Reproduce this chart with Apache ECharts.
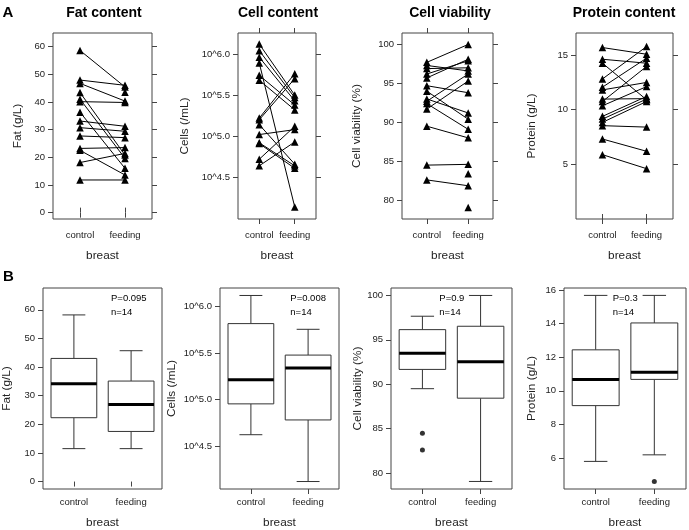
<!DOCTYPE html>
<html><head><meta charset="utf-8">
<script src="https://cdn.jsdelivr.net/npm/echarts@6/dist/echarts.min.js"></script>
<style>html,body{margin:0;padding:0;background:#fff}#c{width:689px;height:530px}</style>
</head><body><div id="c"></div>
<script>
// ---------- DATA ----------
const categories = ['control', 'feeding'];
const panelTitles = ['Fat content', 'Cell content', 'Cell viability', 'Protein content'];
const yNames = ['Fat (g/L)', 'Cells (/mL)', 'Cell viability (%)', 'Protein (g/L)'];
const xName = 'breast';

// Panel A: paired values per mother (null = missing control value)
const fatControl  = [58.6, 47.9, 46.7, 43.4, 41.0, 40.1, 36.3, 33.1, 30.7, 27.7, 23.2, 22.5, 18.1, 11.8, null];
const fatFeeding  = [45.4, 46.0, 40.3, 20.8, 19.6, 39.8, 16.0, 31.2, 29.4, 27.1, 23.5, 13.6, 21.4, 11.8, 43.5];
const cellControl = [6.12, 6.04, 5.96, 5.89, 5.74, 5.68, 5.22, 5.20, 5.14, 5.02, 4.92, 4.91, 4.72, 4.64];
const cellFeeding = [5.50, 5.47, 5.43, 4.14, 5.38, 5.32, 5.76, 5.70, 4.66, 5.08, 4.64, 4.61, 5.12, 4.93];
const viabControl = [97.7, 97.3, 96.9, 96.2, 95.7, 94.7, 94.0, 93.0, 92.7, 92.4, 91.7, 89.5, 84.5, 82.6, null, null];
const viabFeeding = [100.0, 96.6, 97.0, 97.9, 98.1, 93.8, 90.4, 91.2, 96.2, 89.1, 95.3, 88.0, 84.6, 81.85, 83.4, 79.05];
const protControl = [15.67, 14.6, 14.24, 12.8, 12.05, 11.8, 10.96, 10.74, 10.35, 9.38, 9.13, 8.83, 8.53, 7.31, 5.88];
const protFeeding = [15.06, 14.24, 10.9, 15.76, 14.7, 12.48, 11.0, 13.94, 12.1, 11.2, 10.96, 10.74, 8.4, 6.19, 4.6];

// Panel B: box statistics [min, Q1, median, Q3, max]
const fatBoxControl  = [11.5, 22.3, 34.2, 43.0, 58.2];
const fatBoxFeeding  = [11.5, 17.5, 26.9, 35.1, 45.7];
const cellBoxControl = [4.625, 4.955, 5.212, 5.814, 6.115];
const cellBoxFeeding = [4.124, 4.783, 5.338, 5.477, 5.753];
const viabBoxControl = [89.5, 91.67, 93.5, 96.15, 97.66];
const viabBoxFeeding = [79.05, 88.43, 92.54, 96.53, 100.0];
const protBoxControl = [5.8, 9.12, 10.68, 12.44, 15.68];
const protBoxFeeding = [6.19, 10.68, 11.1, 14.04, 15.68];
// outliers
const fatOutControl = [], fatOutFeeding = [];
const cellOutControl = [], cellOutFeeding = [];
const viabOutControl = [84.47, 82.6], viabOutFeeding = [];
const protOutControl = [], protOutFeeding = [4.6];

const pLabels = ['P=0.095', 'P=0.008', 'P=0.9', 'P=0.3'];
const nLabel = 'n=14';

// tick values
const fatTicks = [0, 10, 20, 30, 40, 50, 60];
const cellTicks = [4.5, 5.0, 5.5, 6.0];
const viabTicks = [80, 85, 90, 95, 100];
const protTicksA = [5, 10, 15];
const protTicksB = [6, 8, 10, 12, 14, 16];

// ---------- LAYOUT / STYLE ----------
const FONT = '"Liberation Sans", Arial, Helvetica, sans-serif';
const TICK_COLOR = '#444';
const LABEL_COLOR = '#222';
const TICK_FS = 9.5;
const NAME_FS = 11.8;

const topGrids = [{left: 53, width: 99}, {left: 238, width: 78}, {left: 402, width: 91}, {left: 576, width: 97}];
const botGrids = [{left: 42, width: 120}, {left: 220, width: 119}, {left: 391, width: 121}, {left: 564, width: 122}];
const TOP_Y = 33, TOP_H = 186, BOT_Y = 288, BOT_H = 201;
const yRangeA = [[-2.3, 64.9], [3.993, 6.255], [77.58, 101.47], [0, 17]];
const yRangeB = [[-2.6, 67.6], [4.044, 6.195], [78.2, 100.84], [4.157, 16.12]];
const yNameGapA = [29, 47, 39.5, 38.5];
const yNameGapB = [30, 42, 26, 26];
const pTextX = [110, 289.3, 438.3, 611.7];
const titleX = [104, 278, 450, 624];

const pairsA = [[fatControl, fatFeeding], [cellControl, cellFeeding], [viabControl, viabFeeding], [protControl, protFeeding]];
const boxesB = [[fatBoxControl, fatBoxFeeding], [cellBoxControl, cellBoxFeeding], [viabBoxControl, viabBoxFeeding], [protBoxControl, protBoxFeeding]];
const outB = [[fatOutControl, fatOutFeeding], [cellOutControl, cellOutFeeding], [viabOutControl, viabOutFeeding], [protOutControl, protOutFeeding]];
const ticksA = [fatTicks, cellTicks, viabTicks, protTicksA];
const ticksB = [fatTicks, cellTicks, viabTicks, protTicksB];
const fmt = [v => String(v), v => '10^' + v.toFixed(1), v => String(v), v => String(v)];

const grid = [], xAxis = [], yAxis = [], series = [];

function mkX(gi, min, max, opts) {
  return Object.assign({
    type: 'value', gridIndex: gi, min: min, max: max, position: 'bottom',
    axisLine: {show: false}, splitLine: {show: false},
    axisTick: {show: true, customValues: [1, 2], length: 5, lineStyle: {color: TICK_COLOR}},
    axisLabel: {show: true, customValues: [1, 2], formatter: v => categories[Math.round(v) - 1],
      fontSize: TICK_FS, color: LABEL_COLOR, fontFamily: FONT}
  }, opts);
}
function mkY(gi, range, ticks, f, opts) {
  return Object.assign({
    type: 'value', gridIndex: gi, min: range[0], max: range[1], position: 'left',
    axisLine: {show: false}, splitLine: {show: false},
    axisTick: {show: true, customValues: ticks, length: 5, lineStyle: {color: TICK_COLOR}},
    axisLabel: {show: true, customValues: ticks, formatter: f, fontSize: TICK_FS, color: LABEL_COLOR, fontFamily: FONT}
  }, opts);
}

// top (A) panels
for (let p = 0; p < 4; p++) {
  grid.push({left: topGrids[p].left, width: topGrids[p].width, top: TOP_Y, height: TOP_H,
    show: true, borderColor: '#444', borderWidth: 1, backgroundColor: 'transparent'});
}
// bottom (B) panels
for (let p = 0; p < 4; p++) {
  grid.push({left: botGrids[p].left, width: botGrids[p].width, top: BOT_Y, height: BOT_H,
    show: true, borderColor: '#444', borderWidth: 1, backgroundColor: 'transparent'});
}
// main axes
for (let p = 0; p < 4; p++) {
  xAxis.push(mkX(p, 0.4, 2.6, {
    name: xName, nameLocation: 'middle', nameGap: 30.5,
    nameTextStyle: {fontSize: NAME_FS, color: LABEL_COLOR, fontFamily: FONT},
    axisLabel: {show: true, customValues: [1, 2], formatter: v => categories[Math.round(v) - 1],
      fontSize: TICK_FS, color: LABEL_COLOR, fontFamily: FONT, margin: 11}
  }));
  yAxis.push(mkY(p, yRangeA[p], ticksA[p], fmt[p], {
    name: yNames[p], nameLocation: 'middle', nameGap: yNameGapA[p], nameRotate: 90,
    nameTextStyle: {fontSize: NAME_FS, color: LABEL_COLOR, fontFamily: FONT}
  }));
}
for (let p = 0; p < 4; p++) {
  xAxis.push(mkX(4 + p, 0.46, 2.54, {
    name: xName, nameLocation: 'middle', nameGap: 28,
    nameTextStyle: {fontSize: NAME_FS, color: LABEL_COLOR, fontFamily: FONT},
    axisLabel: {show: true, customValues: [1, 2], formatter: v => categories[Math.round(v) - 1],
      fontSize: TICK_FS, color: LABEL_COLOR, fontFamily: FONT, margin: 8}
  }));
  yAxis.push(mkY(4 + p, yRangeB[p], ticksB[p], fmt[p], {
    name: yNames[p], nameLocation: 'middle', nameGap: yNameGapB[p], nameRotate: 90,
    nameTextStyle: {fontSize: NAME_FS, color: LABEL_COLOR, fontFamily: FONT}
  }));
}
// lattice-style extra ticks on top & right of A panels
for (let p = 0; p < 4; p++) {
  xAxis.push(mkX(p, 0.4, 2.6, {position: 'top', axisLabel: {show: false, customValues: [1, 2]}}));
  yAxis.push(mkY(p, yRangeA[p], ticksA[p], fmt[p], {position: 'right', axisLabel: {show: false, customValues: ticksA[p]}}));
}

// series A: paired lines with triangles
for (let p = 0; p < 4; p++) {
  const [c, f] = pairsA[p];
  for (let k = 0; k < f.length; k++) {
    const data = c[k] == null ? [[2, f[k]]] : [[1, c[k]], [2, f[k]]];
    series.push({
      type: 'line', xAxisIndex: p, yAxisIndex: p, data: data,
      symbol: 'triangle', symbolSize: 7.5, showSymbol: true,
      itemStyle: {color: '#000'}, lineStyle: {color: '#000', width: 1},
      silent: true, animation: false, z: 3
    });
  }
}

// series B: box plots
function renderBox(params, api) {
  const x = api.value(0);
  const vals = [api.value(1), api.value(2), api.value(3), api.value(4), api.value(5)];
  const pts = vals.map(v => api.coord([x, v]));
  const cx = pts[0][0];
  const half = api.size([0.8, 0])[0] / 2;
  const cap = half / 2;
  const st = {stroke: '#333', lineWidth: 1, fill: null};
  return {type: 'group', children: [
    {type: 'line', shape: {x1: cx, y1: pts[3][1], x2: cx, y2: pts[4][1]}, style: st},
    {type: 'line', shape: {x1: cx, y1: pts[1][1], x2: cx, y2: pts[0][1]}, style: st},
    {type: 'line', shape: {x1: cx - cap, y1: pts[4][1], x2: cx + cap, y2: pts[4][1]}, style: st},
    {type: 'line', shape: {x1: cx - cap, y1: pts[0][1], x2: cx + cap, y2: pts[0][1]}, style: st},
    {type: 'rect', shape: {x: cx - half, y: pts[3][1], width: 2 * half, height: pts[1][1] - pts[3][1]},
      style: {fill: '#fff', stroke: '#333', lineWidth: 1}},
    {type: 'line', shape: {x1: cx - half, y1: pts[2][1], x2: cx + half, y2: pts[2][1]},
      style: {stroke: '#000', lineWidth: 3}}
  ]};
}
for (let p = 0; p < 4; p++) {
  const [bc, bf] = boxesB[p];
  series.push({
    type: 'custom', xAxisIndex: 4 + p, yAxisIndex: 4 + p, renderItem: renderBox,
    data: [[1].concat(bc), [2].concat(bf)], encode: {x: 0, y: [1, 2, 3, 4, 5]},
    silent: true, animation: false, z: 2
  });
  const [oc, of] = outB[p];
  const od = oc.map(v => [1, v]).concat(of.map(v => [2, v]));
  if (od.length) {
    series.push({type: 'scatter', xAxisIndex: 4 + p, yAxisIndex: 4 + p, data: od,
      symbol: 'circle', symbolSize: 5, itemStyle: {color: '#000'}, silent: true, animation: false, z: 3});
  }
}

// text graphics
const graphic = [];
for (let p = 0; p < 4; p++) {
  graphic.push({type: 'text', z: 10, style: {text: panelTitles[p], x: titleX[p], y: 13, align: 'center', verticalAlign: 'middle',
    fontSize: 14, fontWeight: 'bold', fontFamily: FONT, fill: '#000'}});
  graphic.push({type: 'text', z: 10, style: {text: pLabels[p], x: pTextX[p], y: 298, align: 'left', verticalAlign: 'middle',
    fontSize: 9.5, fontFamily: FONT, fill: '#000', backgroundColor: '#fff', padding: [0, 1]}});
  graphic.push({type: 'text', z: 10, style: {text: nLabel, x: pTextX[p], y: 312, align: 'left', verticalAlign: 'middle',
    fontSize: 9.5, fontFamily: FONT, fill: '#000', backgroundColor: '#fff', padding: [0, 1]}});
}
graphic.push({type: 'text', style: {text: 'A', x: 8, y: 13, align: 'center', verticalAlign: 'middle', fontSize: 15, fontWeight: 'bold', fontFamily: FONT, fill: '#000'}});
graphic.push({type: 'text', style: {text: 'B', x: 8.5, y: 277, align: 'center', verticalAlign: 'middle', fontSize: 15, fontWeight: 'bold', fontFamily: FONT, fill: '#000'}});

const chart = echarts.init(document.getElementById('c'), null, {renderer: 'canvas'});
chart.setOption({
  animation: false,
  backgroundColor: '#fff',
  textStyle: {fontFamily: FONT},
  grid: grid, xAxis: xAxis, yAxis: yAxis, series: series, graphic: graphic
});
</script>
</body></html>
